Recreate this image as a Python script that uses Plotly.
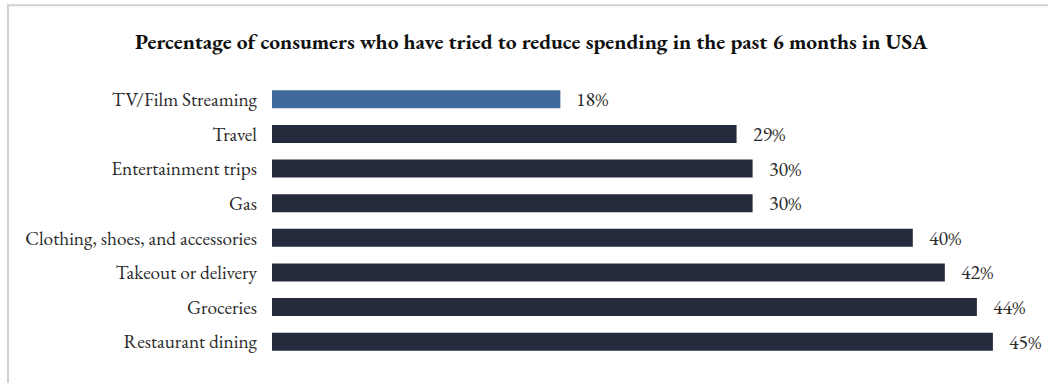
import plotly.graph_objects as go

categories = ["TV/Film Streaming", "Travel", "Entertainment trips", "Gas",
              "Clothing, shoes, and accessories", "Takeout or delivery",
              "Groceries", "Restaurant dining"]
values = [18, 29, 30, 30, 40, 42, 44, 45]
labels = [f"{v}%" for v in values]
colors = ["#41699b"] + ["#252b3d"] * 7

SERIF = "Garamond, 'EB Garamond', 'Liberation Serif', 'DejaVu Serif', serif"

fig = go.Figure(go.Bar(
    x=values, y=categories, orientation="h",
    marker=dict(color=colors, line=dict(width=0)),
    width=0.52, hoverinfo="skip",
))

for c, v, t in zip(categories, values, labels):
    fig.add_annotation(x=v, y=c, text=t, showarrow=False, xanchor="left",
                       xshift=14, font=dict(family=SERIF, size=20, color="#2a2a2a"))

fig.update_layout(
    width=1048, height=383,
    margin=dict(l=272, r=8, t=82, b=24),
    paper_bgcolor="white", plot_bgcolor="white",
    showlegend=False,
    title=dict(text="<b>Percentage of consumers who have tried to reduce spending in the past 6 months in USA</b>",
               x=0.507, xanchor="center", y=0.893, yanchor="middle",
               font=dict(family=SERIF, size=21.5, color="#111111")),
    xaxis=dict(range=[0, 47.94], visible=False, fixedrange=True),
    yaxis=dict(autorange="reversed", showline=False, showgrid=False, ticks="",
               ticklabelstandoff=14,
               tickfont=dict(family=SERIF, size=19.3, color="#2a2a2a"), fixedrange=True),
    shapes=[dict(type="rect", xref="paper", yref="paper",
                 x0=-272/768 + 8/768, x1=1.2, y0=-0.3, y1=1 + (82 - 5) / 277.6,
                 line=dict(color="#d0d0d0", width=2), fillcolor="rgba(0,0,0,0)", layer="below")],
)

fig.write_html("out.html")
